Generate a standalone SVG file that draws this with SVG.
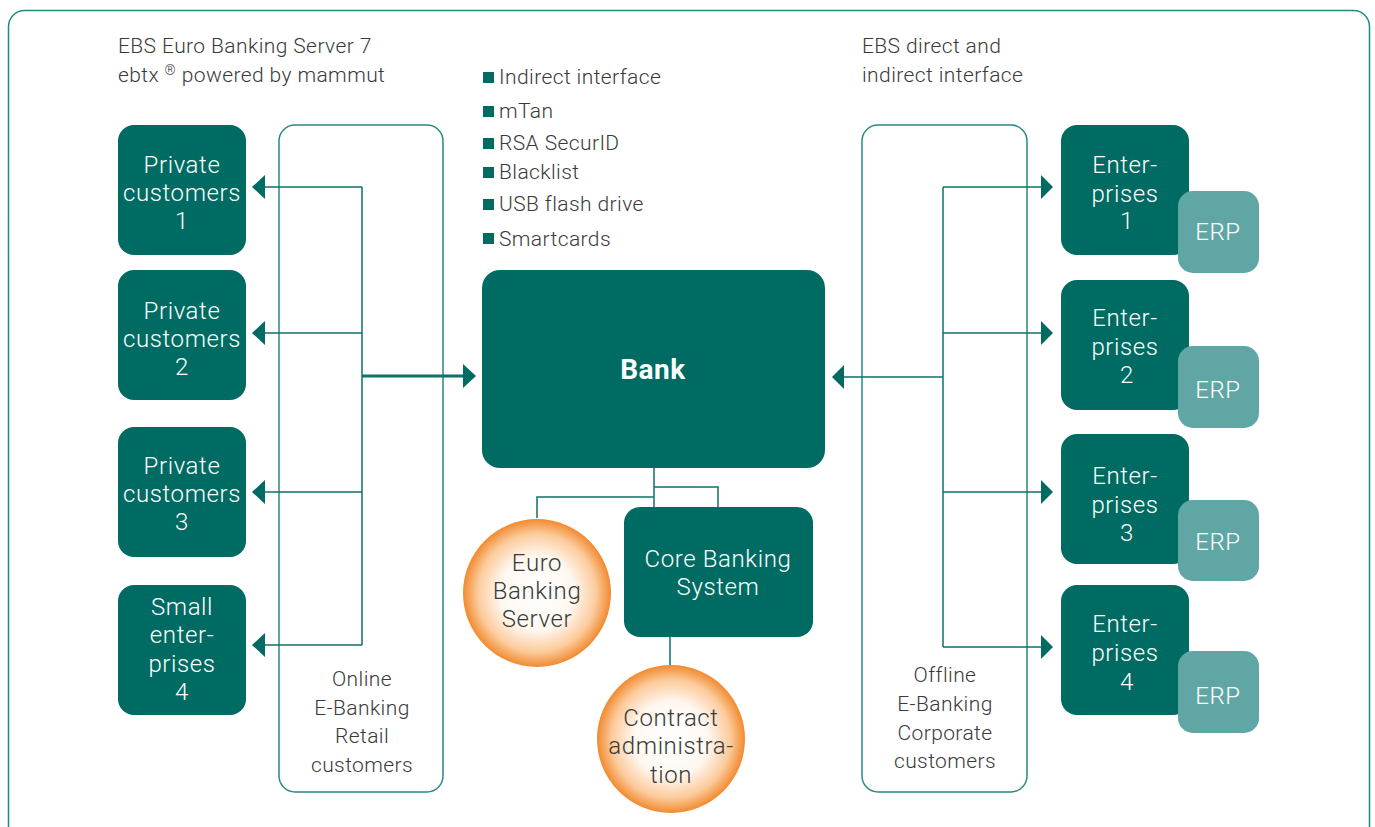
<svg xmlns="http://www.w3.org/2000/svg" width="1375" height="827" viewBox="0 0 1375 827">
<defs>
<style>
.node{fill:#006b62}
.erp{fill:#5fa6a4}
.panel{fill:none;stroke:#2a8a82;stroke-width:1.5}
.wt{fill:#ffffff;font-family:Roboto,"Liberation Sans",sans-serif;font-size:24px;font-weight:300;text-anchor:middle;letter-spacing:0.6px}
.dt{fill:#3a3a3a;font-family:Roboto,"Liberation Sans",sans-serif;font-size:21px;font-weight:300;letter-spacing:0.4px}
.ct{fill:#3a3a3a;font-family:Roboto,"Liberation Sans",sans-serif;font-size:24px;font-weight:300;text-anchor:middle;letter-spacing:0.6px}
.mid{text-anchor:middle}
.ln{fill:none;stroke:#0f7268;stroke-width:1.5}
.thick{fill:none;stroke:#0f7268;stroke-width:3}
.ah{fill:#006b62}
.bul{fill:#006b62}
</style>
<radialGradient id="orb" cx="50%" cy="50%" r="50%">
<stop offset="0" stop-color="#ffffff"/>
<stop offset="0.5" stop-color="#fff8f1"/>
<stop offset="0.8" stop-color="#fccb9c"/>
<stop offset="1" stop-color="#f18a2f"/>
</radialGradient>
</defs>
<rect x="0" y="0" width="1375" height="827" fill="#ffffff"/>
<rect x="8.5" y="10.5" width="1361" height="832" rx="16" fill="none" stroke="#1e8a80" stroke-width="1.5"/>

<g id="headings">
<text class="dt" x="118" y="53">EBS Euro Banking Server 7</text>
<text class="dt" x="118" y="82">ebtx <tspan font-size="14" dy="-7">®</tspan><tspan dy="7"> powered by mammut</tspan></text>
<text class="dt" x="862" y="53">EBS direct and</text>
<text class="dt" x="862" y="82">indirect interface</text>
</g>

<g id="features">
<rect class="bul" x="483" y="72" width="11" height="11"/><text class="dt" x="499" y="84">Indirect interface</text>
<rect class="bul" x="483" y="106" width="11" height="11"/><text class="dt" x="499" y="118">mTan</text>
<rect class="bul" x="483" y="138" width="11" height="11"/><text class="dt" x="499" y="150">RSA SecurID</text>
<rect class="bul" x="483" y="167" width="11" height="11"/><text class="dt" x="499" y="179">Blacklist</text>
<rect class="bul" x="483" y="199" width="11" height="11"/><text class="dt" x="499" y="211">USB flash drive</text>
<rect class="bul" x="483" y="233" width="11" height="11"/><text class="dt" x="499" y="246">Smartcards</text>
</g>

<g id="panel-online">
<rect class="panel" x="279" y="125" width="164" height="667" rx="16"/>
<text class="dt mid" x="362" y="686">Online</text>
<text class="dt mid" x="362" y="715">E-Banking</text>
<text class="dt mid" x="362" y="743">Retail</text>
<text class="dt mid" x="362" y="772">customers</text>
</g>

<g id="panel-offline">
<rect class="panel" x="862" y="125" width="165" height="667" rx="16"/>
<text class="dt mid" x="945" y="682">Offline</text>
<text class="dt mid" x="945" y="711">E-Banking</text>
<text class="dt mid" x="945" y="740">Corporate</text>
<text class="dt mid" x="945" y="768">customers</text>
</g>

<g id="connectors">
<path class="ln" d="M362 187V645M265 187H362M265 333H362M265 492H362M265 645H362"/>
<polygon class="ah" points="252,187 265,175 265,199"/>
<polygon class="ah" points="252,333 265,321 265,345"/>
<polygon class="ah" points="252,492 265,480 265,504"/>
<polygon class="ah" points="252,645 265,633 265,657"/>
<path class="thick" d="M362 376H464"/>
<polygon class="ah" points="476,376 463,364 463,388"/>
<path class="ln" d="M943 187V647M943 187H1041M943 333H1041M943 492H1041M943 647H1041M844 377H943"/>
<polygon class="ah" points="1053,187 1041,175 1041,199"/>
<polygon class="ah" points="1053,333 1041,321 1041,345"/>
<polygon class="ah" points="1053,492 1041,480 1041,504"/>
<polygon class="ah" points="1053,647 1041,635 1041,659"/>
<polygon class="ah" points="832,377 844,365 844,389"/>
<path class="ln" d="M654 468V507M654 487H718V507M654 497H537V518M670 637V665"/>
</g>

<g id="pc1"><rect class="node" x="118" y="125" width="128" height="130" rx="16"/>
<text class="wt" x="182" y="173">Private</text><text class="wt" x="182" y="201">customers</text><text class="wt" x="182" y="229">1</text></g>
<g id="pc2"><rect class="node" x="118" y="270" width="128" height="130" rx="16"/>
<text class="wt" x="182" y="319">Private</text><text class="wt" x="182" y="347">customers</text><text class="wt" x="182" y="375">2</text></g>
<g id="pc3"><rect class="node" x="118" y="427" width="128" height="130" rx="16"/>
<text class="wt" x="182" y="474">Private</text><text class="wt" x="182" y="502">customers</text><text class="wt" x="182" y="530">3</text></g>
<g id="se4"><rect class="node" x="118" y="585" width="128" height="130" rx="16"/>
<text class="wt" x="182" y="615">Small</text><text class="wt" x="182" y="643">enter-</text><text class="wt" x="182" y="672">prises</text><text class="wt" x="182" y="700">4</text></g>

<g id="bank"><rect class="node" x="482" y="270" width="343" height="198" rx="18"/>
<text x="653" y="379" fill="#ffffff" font-family="Roboto,'Liberation Sans',sans-serif" font-size="28" font-weight="bold" text-anchor="middle" letter-spacing="0.5">Bank</text></g>

<g id="ent1"><rect class="node" x="1061" y="125" width="128" height="130" rx="16"/>
<text class="wt" x="1125" y="173">Enter-</text><text class="wt" x="1125" y="202">prises</text><text class="wt" x="1127" y="229">1</text></g>
<g id="erp1"><rect class="erp" x="1178" y="191" width="81" height="82" rx="15"/><text class="wt" x="1218" y="240">ERP</text></g>
<g id="ent2"><rect class="node" x="1061" y="280" width="128" height="130" rx="16"/>
<text class="wt" x="1125" y="326">Enter-</text><text class="wt" x="1125" y="355">prises</text><text class="wt" x="1127" y="383">2</text></g>
<g id="erp2"><rect class="erp" x="1178" y="346" width="81" height="82" rx="15"/><text class="wt" x="1218" y="398">ERP</text></g>
<g id="ent3"><rect class="node" x="1061" y="434" width="128" height="130" rx="16"/>
<text class="wt" x="1125" y="484">Enter-</text><text class="wt" x="1125" y="513">prises</text><text class="wt" x="1127" y="541">3</text></g>
<g id="erp3"><rect class="erp" x="1178" y="500" width="81" height="81" rx="15"/><text class="wt" x="1218" y="550">ERP</text></g>
<g id="ent4"><rect class="node" x="1061" y="585" width="128" height="130" rx="16"/>
<text class="wt" x="1125" y="632">Enter-</text><text class="wt" x="1125" y="661">prises</text><text class="wt" x="1127" y="690">4</text></g>
<g id="erp4"><rect class="erp" x="1178" y="651" width="81" height="82" rx="15"/><text class="wt" x="1218" y="704">ERP</text></g>

<g id="core"><rect class="node" x="624" y="507" width="189" height="130" rx="16"/>
<text class="wt" x="718" y="567">Core Banking</text><text class="wt" x="718" y="595">System</text></g>

<g id="ebs"><circle cx="537" cy="593" r="74" fill="url(#orb)"/>
<text class="ct" x="537" y="571">Euro</text><text class="ct" x="537" y="599">Banking</text><text class="ct" x="537" y="627">Server</text></g>

<g id="contract"><circle cx="671" cy="739" r="74" fill="url(#orb)"/>
<text class="ct" x="671" y="726">Contract</text><text class="ct" x="671" y="754">administra-</text><text class="ct" x="671" y="783">tion</text></g>
</svg>
